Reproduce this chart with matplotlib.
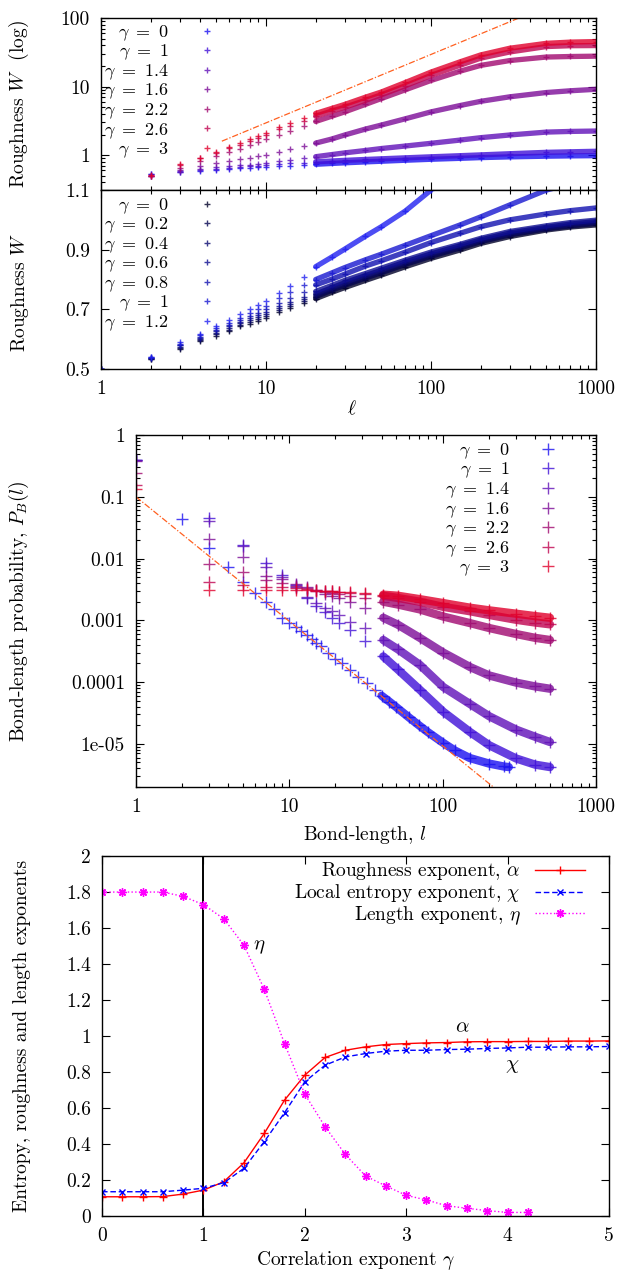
import numpy as np
import matplotlib
matplotlib.use("Agg")
import matplotlib.pyplot as plt
from matplotlib.ticker import NullFormatter, LogLocator, FixedLocator

plt.rcParams["font.family"] = "serif"
plt.rcParams["font.serif"] = ["cmr10"]
plt.rcParams["mathtext.fontset"] = "cm"
plt.rcParams["axes.unicode_minus"] = False
plt.rcParams["axes.formatter.use_mathtext"] = True
FS = 14
LFS = 13
nan = np.nan

# ---------------- roughness W(l), panels 1 and 2 ----------------
ell = [1, 2, 3, 4, 5, 6, 7, 8, 9, 10, 12, 14, 17, 20, 25, 30, 40, 50, 70, 100,
       150, 200, 300, 500, 700, 1000]

# linear panel (gamma = 0 ... 1.2)
w_g00 = [0.5, 0.534, 0.567, 0.593, 0.612, 0.626, 0.643, 0.652, 0.662, 0.672, 0.690, 0.703, 0.720,
         0.736, 0.757, 0.773, 0.797, 0.815, 0.843, 0.871, 0.899, 0.921, 0.944, 0.966, 0.976, 0.983]
w_g02 = [0.5, 0.535, 0.571, 0.597, 0.617, 0.632, 0.648, 0.658, 0.668, 0.678, 0.697, 0.710, 0.727,
         0.743, 0.764, 0.781, 0.805, 0.823, 0.851, 0.878, 0.906, 0.927, 0.950, 0.970, 0.980, 0.988]
w_g04 = [0.5, 0.536, 0.575, 0.601, 0.622, 0.638, 0.653, 0.664, 0.674, 0.684, 0.703, 0.717, 0.735,
         0.751, 0.772, 0.789, 0.813, 0.831, 0.859, 0.886, 0.913, 0.933, 0.956, 0.975, 0.986, 0.994]
w_g06 = [0.5, 0.537, 0.579, 0.605, 0.627, 0.644, 0.658, 0.670, 0.680, 0.690, 0.710, 0.725, 0.743,
         0.760, 0.780, 0.797, 0.820, 0.838, 0.865, 0.892, 0.918, 0.938, 0.961, 0.980, 0.991, 0.999]
w_g08 = [0.5, 0.538, 0.582, 0.608, 0.630, 0.648, 0.663, 0.677, 0.689, 0.700, 0.720, 0.737, 0.758,
         0.782, 0.801, 0.818, 0.845, 0.863, 0.892, 0.924, 0.955, 0.977, 1.000, 1.020, 1.031, 1.040]
w_g10 = [0.5, 0.539, 0.585, 0.613, 0.636, 0.655, 0.672, 0.687, 0.700, 0.712, 0.738, 0.757, 0.781,
         0.800, 0.822, 0.840, 0.866, 0.885, 0.915, 0.947, 0.983, 1.010, 1.050, 1.100, 1.120, 1.140]
w_g12 = [0.5, 0.540, 0.589, 0.619, 0.643, 0.665, 0.685, 0.700, 0.713, 0.728, 0.755, 0.778, 0.810,
         0.843, 0.875, 0.902, 0.945, 0.977, 1.030, 1.100, nan, nan, nan, nan, nan, nan]

# log panel (gamma = 1.4 ... 3), from l = 2 on
w_g14 = [0.5, 0.575, 0.63, 0.665, 0.69, 0.71, 0.73, 0.75, 0.77, 0.81, 0.85, 0.90, 0.95, 1.02,
         1.08, 1.17, 1.25, 1.36, 1.49, 1.66, 1.80, 1.97, 2.17, 2.22, 2.25]
w_g16 = [0.5, 0.60, 0.70, 0.765, 0.82, 0.87, 0.92, 0.97, 1.01, 1.12, 1.22, 1.36, 1.50, 1.72,
         1.97, 2.40, 2.75, 3.40, 4.28, 5.30, 6.10, 7.10, 8.20, 8.70, 9.14]
w_g22 = [0.5, 0.64, 0.81, 0.98, 1.12, 1.25, 1.40, 1.55, 1.72, 2.00, 2.25, 2.65, 3.10, 3.70,
         4.28, 5.50, 6.70, 9.00, 12.3, 16.8, 20.4, 24.0, 27.0, 27.5, 27.8]
w_g26 = [0.5, 0.72, 0.90, 1.08, 1.27, 1.43, 1.62, 1.80, 2.00, 2.40, 2.70, 3.20, 3.70, 4.40,
         5.00, 6.30, 7.60, 10.3, 14.6, 20.5, 26.0, 32.0, 38.4, 39.5, 39.7]
w_g30 = [0.51, 0.74, 0.92, 1.13, 1.33, 1.49, 1.71, 1.90, 2.13, 2.60, 2.90, 3.50, 4.06, 4.80,
         5.50, 7.00, 8.35, 11.5, 16.3, 23.0, 29.0, 36.3, 42.8, 44.6, 45.4]

fit_w_ell = [5.4, 340]
fit_w = [1.6, 100]

# ---------------- bond-length probability, panel 3 ----------------
l_all = [1, 2, 3, 4, 5, 6, 7, 8, 9, 10, 11, 12, 13, 14, 15, 16, 18, 20, 22, 25, 28, 32, 36,
         40, 45, 50, 60, 70, 80, 100, 120, 150, 200, 250, 270]
pb_g00 = [0.40, 0.043, 0.0146, 0.0072, 0.0042, 0.0028, 0.002, 0.0015, 0.0011, 0.00092, 0.00078,
          0.00068, 0.00058, 0.0005, 0.00043, 0.00038, 0.0003, 0.00024, 0.0002, 0.000155,
          0.000123, 9.5e-5, 7.5e-5, 6.0e-5, 4.8e-5, 3.9e-5, 2.7e-5, 2.0e-5, 1.55e-5, 1.05e-5,
          7.8e-6, 5.9e-6, 4.8e-6, 4.3e-6, 4.2e-6]

l_odd = [1, 3, 5, 7, 9, 11, 13, 15, 17, 19, 21, 25, 31, 41, 51, 71, 101, 151, 201, 301, 401, 501]
pb_g10 = [0.40, 0.046, 0.0165, 0.0086, 0.0054, 0.0037, 0.0023, 0.0017, 0.00135, 0.0011, 0.0009,
          0.00069, 0.00047, 0.00026, 0.00016, 7.5e-5, 3.3e-5, 1.55e-5, 9.5e-6, 5.8e-6, 4.6e-6, 4.2e-6]
pb_g14 = [0.40, 0.040, 0.016, 0.0072, 0.005, 0.0034, 0.0024, 0.0019, 0.0016, 0.0014, 0.0012,
          0.00095, 0.00074, 0.00048, 0.00034, 0.00019, 8.3e-5, 4.4e-5, 2.8e-5, 1.7e-5, 1.3e-5, 1.07e-5]
pb_g16 = [0.38, 0.021, 0.0107, 0.0053, 0.0046, 0.0039, 0.0035, 0.003, 0.0027, 0.0025, 0.0023,
          0.002, 0.0016, 0.0011, 0.00085, 0.00052, 0.0003, 0.000175, 0.000128, 9.8e-5, 8.5e-5, 7.8e-5]
pb_g22 = [0.24, 0.0083, 0.0061, 0.0045, 0.004, 0.0036, 0.0033, 0.0031, 0.0029, 0.0028, 0.0027,
          0.0025, 0.0023, 0.002, 0.0018, 0.0015, 0.00115, 0.0009, 0.00075, 0.0006, 0.00052, 0.00048]
pb_g26 = [0.155, 0.0042, 0.0037, 0.0035, 0.0034, 0.0033, 0.0032, 0.0031, 0.003, 0.003, 0.0029,
          0.0028, 0.0027, 0.0025, 0.0023, 0.002, 0.00165, 0.0014, 0.00122, 0.00102, 0.00092, 0.00086]
pb_g30 = [0.134, 0.0031, 0.0031, 0.0031, 0.0031, 0.0031, 0.0031, 0.003, 0.003, 0.003, 0.0029,
          0.0029, 0.0028, 0.0026, 0.0025, 0.0022, 0.0019, 0.0016, 0.00145, 0.00128, 0.00117, 0.0011]

fit_pb_l = [1, 214]
fit_pb = [0.1, 2e-6]

# ---------------- exponents, panel 4 ----------------
gam = [0, 0.2, 0.4, 0.6, 0.8, 1.0, 1.2, 1.4, 1.6, 1.8, 2.0, 2.2, 2.4, 2.6, 2.8, 3.0, 3.2, 3.4,
       3.6, 3.8, 4.0, 4.2, 4.4, 4.6, 4.8, 5.0]
alpha_exp = [0.107, 0.107, 0.107, 0.108, 0.122, 0.144, 0.19, 0.296, 0.459, 0.644, 0.783, 0.881,
             0.921, 0.94, 0.953, 0.958, 0.962, 0.964, 0.968, 0.969, 0.969, 0.970, 0.970, 0.972,
             0.972, 0.973]
chi_exp = [0.135, 0.135, 0.135, 0.135, 0.144, 0.154, 0.185, 0.265, 0.413, 0.574, 0.746, 0.838,
           0.884, 0.903, 0.916, 0.921, 0.921, 0.925, 0.927, 0.931, 0.934, 0.938, 0.938, 0.940,
           0.940, 0.942]
eta_exp = [1.80, 1.80, 1.80, 1.80, 1.776, 1.73, 1.652, 1.504, 1.26, 0.958, 0.677, 0.496, 0.342,
           0.222, 0.167, 0.115, 0.089, 0.057, 0.043, 0.03, 0.02, 0.02]
gamma_c = 1.0

# colours, blue -> red and black -> blue
col_br = ["#1a10f0", "#4010d8", "#6010b8", "#7c0c98", "#a00870", "#c00450", "#e0002c"]
col_kb = ["#000028", "#040450", "#080870", "#0c0c90", "#1010b0", "#1818d0", "#2020f0"]
lab_br = ["0", "1", "1.4", "1.6", "2.2", "2.6", "3"]
lab_kb = ["0", "0.2", "0.4", "0.6", "0.8", "1", "1.2"]


def style_axes(ax):
    ax.tick_params(which="both", direction="in", top=True, right=True, labelsize=FS, pad=8)
    ax.tick_params(which="major", length=6, width=0.8)
    ax.tick_params(which="minor", length=3, width=0.8)
    for s in ax.spines.values():
        s.set_linewidth(1.0)


def log_x(ax):
    ax.set_xscale("log")
    ax.set_xlim(1, 1000)
    ax.xaxis.set_major_locator(FixedLocator([1, 10, 100, 1000]))
    ax.xaxis.set_minor_locator(LogLocator(base=10, subs=range(2, 10)))
    ax.xaxis.set_minor_formatter(NullFormatter())


def draw_series(ax, x, y, color, label, ms, band_from, band_lw):
    ax.plot(x, y, ls="none", marker="+", ms=ms, mew=1.0, color=color, alpha=0.8,
            label=r"$\gamma\ =\ %s$" % label)
    ax.plot(x[band_from:], y[band_from:], "-", lw=band_lw, color=color, alpha=0.8,
            solid_capstyle="round")


def add_legend(ax, anchor, hl=2.0, tp=1.1, ls=0.0, fs=LFS):
    leg = ax.legend(loc="upper right", bbox_to_anchor=anchor, frameon=False, markerfirst=False,
                    fontsize=fs, handlelength=hl, handletextpad=tp, labelspacing=ls,
                    borderpad=0, borderaxespad=0, numpoints=1)
    return leg


fig = plt.figure(figsize=(6.29, 12.72), dpi=100)
ax1 = fig.add_axes([0.1606, 0.8506, 0.7870, 0.1352])
ax2 = fig.add_axes([0.1606, 0.7099, 0.7870, 0.1407])
ax3 = fig.add_axes([0.2162, 0.3813, 0.7313, 0.2767])
ax4 = fig.add_axes([0.1622, 0.0440, 0.8060, 0.2830])

# panel 1: log roughness
ell_a = ell[1:]
series_a = [w_g00[1:], w_g10[1:], w_g14, w_g16, w_g22, w_g26, w_g30]
for w, c, lab in zip(series_a, col_br, lab_br):
    draw_series(ax1, ell_a, w, c, lab, ms=4.5, band_from=12, band_lw=3.8)
ax1.plot(fit_w_ell, fit_w, ls="-.", lw=0.9, color="#ff6020", dashes=(5, 1.5, 1, 1.5))
log_x(ax1)
ax1.set_yscale("log")
ax1.set_ylim(0.31, 100)
ax1.set_yticks([1, 10, 100])
ax1.set_yticklabels(["1", "10", "100"])
ax1.yaxis.set_minor_formatter(NullFormatter())
style_axes(ax1)
ax1.tick_params(axis="x", labelbottom=False)
ax1.set_ylabel(r"Roughness $W$  (log)", fontsize=FS)
ax1.yaxis.set_label_coords(-0.141, 0.5)
add_legend(ax1, (0.25, 0.97))

# panel 2: linear roughness
series_b = [w_g00, w_g02, w_g04, w_g06, w_g08, w_g10, w_g12]
for w, c, lab in zip(series_b, col_kb, lab_kb):
    draw_series(ax2, ell, w, c, lab, ms=4.5, band_from=13, band_lw=3.8)
log_x(ax2)
ax2.set_xticklabels(["1", "10", "100", "1000"])
ax2.set_ylim(0.5, 1.1)
ax2.set_yticks([0.5, 0.7, 0.9, 1.1])
ax2.set_yticklabels(["0.5", "0.7", "0.9", "1.1"])
style_axes(ax2)
ax2.set_ylabel(r"Roughness $W$", fontsize=FS)
ax2.yaxis.set_label_coords(-0.141, 0.43)
ax2.set_xlabel(r"$\ell$", fontsize=FS)
ax2.xaxis.set_label_coords(0.507, -0.173)
add_legend(ax2, (0.25, 0.966))

# panel 3: bond-length probability
draw_series(ax3, l_all, pb_g00, col_br[0], lab_br[0], ms=8, band_from=23, band_lw=6)
series_c = [pb_g10, pb_g14, pb_g16, pb_g22, pb_g26, pb_g30]
for p, c, lab in zip(series_c, col_br[1:], lab_br[1:]):
    draw_series(ax3, l_odd, p, c, lab, ms=8, band_from=13, band_lw=6)
ax3.plot(fit_pb_l, fit_pb, ls="-.", lw=0.9, color="#ff6020", dashes=(5, 1.5, 1, 1.5))
log_x(ax3)
ax3.set_xticklabels(["1", "10", "100", "1000"])
ax3.set_yscale("log")
ax3.set_ylim(2e-6, 1)
ax3.set_yticks([1e-5, 1e-4, 1e-3, 1e-2, 1e-1, 1])
ax3.set_yticklabels(["1e-05", "0.0001", "0.001", "0.01", "0.1", "1"])
ax3.yaxis.set_minor_locator(LogLocator(base=10, subs=range(2, 10)))
ax3.yaxis.set_minor_formatter(NullFormatter())
style_axes(ax3)
ax3.set_ylabel(r"Bond-length probability, $P_B(l)$", fontsize=FS)
ax3.yaxis.set_label_coords(-0.228, 0.5)
ax3.set_xlabel(r"Bond-length, $l$", fontsize=FS)
ax3.xaxis.set_label_coords(0.498, -0.105)
add_legend(ax3, (0.934, 0.982))

# panel 4: exponents
ax4.axvline(gamma_c, color="black", lw=1.4)
ax4.plot(gam, alpha_exp, "-", color="#ff0000", lw=1.0, marker="+", ms=6, mew=1.0,
         label=r"Roughness exponent, $\alpha$")
ax4.plot(gam, chi_exp, "--", color="#0000ff", lw=1.0, dashes=(4, 2), marker="x", ms=5, mew=1.0,
         label=r"Local entropy exponent, $\chi$")
ax4.plot(gam[:len(eta_exp)], eta_exp, ":", color="#ff00ff", lw=1.0, marker=(8, 2, 0), ms=6,
         mew=1.0, label=r"Length exponent, $\eta$")
ax4.text(1.55, 1.495, r"$\eta$", fontsize=FS + 1, ha="center", va="center")
ax4.text(3.55, 1.047, r"$\alpha$", fontsize=FS + 1, ha="center", va="center")
ax4.text(4.05, 0.833, r"$\chi$", fontsize=FS + 1, ha="center", va="center")
ax4.set_xlim(0, 5)
ax4.set_ylim(0, 2)
ax4.set_xticks([0, 1, 2, 3, 4, 5])
ax4.set_xticklabels(["0", "1", "2", "3", "4", "5"])
yt = [0, 0.2, 0.4, 0.6, 0.8, 1.0, 1.2, 1.4, 1.6, 1.8, 2.0]
ax4.set_yticks(yt)
ax4.set_yticklabels(["%g" % v for v in yt])
style_axes(ax4)
ax4.set_ylabel("Entropy, roughness and length exponents", fontsize=FS)
ax4.yaxis.set_label_coords(-0.140, 0.5)
ax4.set_xlabel(r"Correlation exponent $\gamma$", fontsize=FS)
ax4.xaxis.set_label_coords(0.5, -0.092)
add_legend(ax4, (0.953, 0.988), hl=2.6, tp=0.72, fs=FS)

fig.savefig("out.png", dpi=100)
